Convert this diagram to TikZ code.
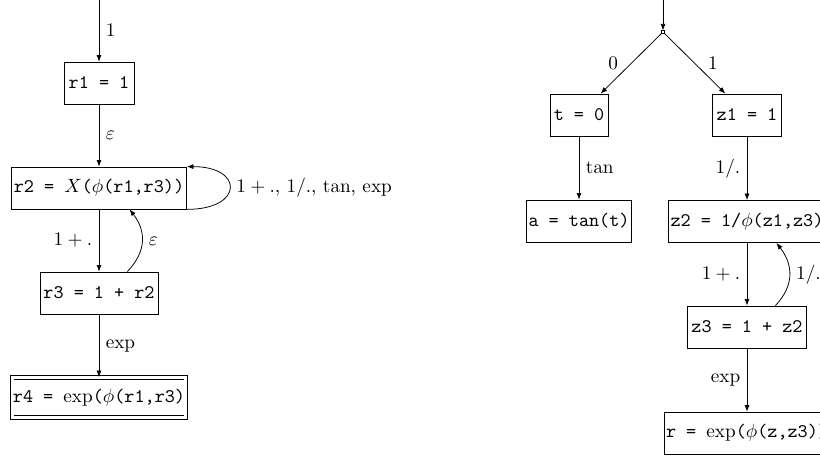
\documentclass[tikz,border=0pt]{standalone}
\usetikzlibrary{arrows.meta,calc}
\begin{document}
\begin{tikzpicture}[x=0.52pt,y=-0.52pt,
  box/.style={draw, rectangle, inner sep=0pt, minimum height=21.84pt},
  arr/.style={-{Latex[length=3.4pt,width=2.6pt]}},
  dot/.style={draw, rectangle, inner sep=0pt, minimum size=1.2pt}]
\useasboundingbox (0,0) rectangle (820,457);
\clip (0,0) rectangle (820,457);
% left diagram
\coordinate (s1) at (99,0);
\node[box, minimum width=36.4pt] (r1) at (99,83) {\texttt{r1 = 1}};
\node[box, minimum width=91pt] (r2) at (99,188) {\texttt{r2 = }$X$\texttt{(}$\phi$\texttt{(r1,r3))}};
\node[box, minimum width=61.4pt] (r3) at (99,293) {\texttt{r3 = 1 + r2}};
\node[box, double, double distance=1.3pt, minimum width=90pt, minimum height=20.8pt] (r4) at (99,397.5) {\texttt{r4 = }$\exp$\texttt{(}$\phi$\texttt{(r1,r3)}};
\draw[arr] (s1) -- (r1) node[midway,right] {$1$};
\draw[arr] (r1) -- (r2) node[midway,right] {$\varepsilon$};
\draw[arr] (r2.south east) .. controls +(57,0) and +(57,0) .. (r2.north east)
  node[midway,right] {$1+.$, $1/.$, $\tan$, $\exp$};
\draw[arr] (r2) -- (r3) node[midway,left] {$1+.$};
\draw[arr] (r3.37) .. controls +(19,-20) and +(17,22) .. (r2.-35) node[midway,right] {$\varepsilon$};
\draw[arr] (r3) -- (r4) node[midway,right] {$\exp$};
% right diagram
\coordinate (s2) at (663,0);
\node[dot] (bp) at (663,32) {};
\node[box, minimum width=30.2pt] (t) at (579,115) {\texttt{t = 0}};
\node[box, minimum width=35.9pt] (z1) at (747,115) {\texttt{z1 = 1}};
\node[box, minimum width=54.6pt] (a) at (579,221) {\texttt{a = tan(t)}};
\node[box, minimum width=82.2pt] (z2) at (747,221.5) {\texttt{z2 = 1/}$\phi$\texttt{(z1,z3)}};
\node[box, minimum width=61.9pt] (z3) at (747,327) {\texttt{z3 = 1 + z2}};
\node[box, minimum width=86.3pt] (r) at (747,433) {\texttt{r = }$\exp$\texttt{(}$\phi$\texttt{(z,z3))}};
\draw[arr] (s2) -- (bp);
\draw[arr] (bp) -- (t) node[midway,left,inner sep=6.6pt] {$0$};
\draw[arr] (bp) -- (z1) node[midway,right,inner sep=6.6pt] {$1$};
\draw[arr] (t) -- (a) node[midway,right] {$\tan$};
\draw[arr] (z1) -- (z2) node[midway,left] {$1/.$};
\draw[arr] (z2) -- (z3) node[midway,left] {$1+.$};
\draw[arr] (z3.37) .. controls +(19,-20) and +(17,22) .. (z2.-36) node[midway,right] {$1/.$};
\draw[arr] (z3) -- (r) node[midway,left] {$\exp$};
\end{tikzpicture}
\end{document}
